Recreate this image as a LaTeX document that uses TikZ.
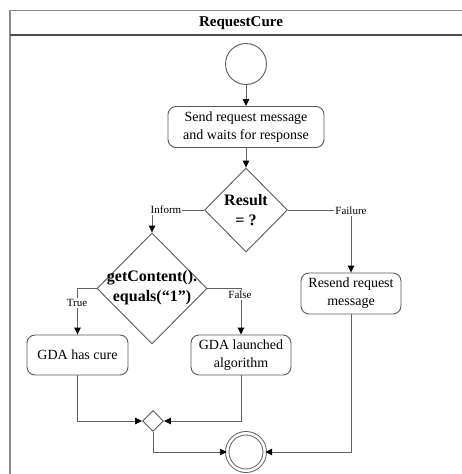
\documentclass[tikz,border=0pt]{standalone}
\usepackage{fontspec}
\setmainfont{Liberation Serif}
\usetikzlibrary{shapes.geometric,arrows.meta}
\begin{document}
\begin{tikzpicture}[x=1pt,y=-1pt,
  edge/.style={draw=black!62, line width=0.9pt},
  flow/.style={edge, -{Triangle[length=7pt,width=6.5pt,black]}},
  action/.style={draw=black!65, line width=0.9pt, rounded corners=8pt,
    align=center, font=\fontsize{14}{18}\selectfont, inner sep=0pt},
  decision/.style={diamond, draw=black!65, line width=0.9pt, inner sep=0pt},
  guard/.style={fill=white, inner sep=1pt, font=\fontsize{11}{13}\selectfont},
  cond/.style={align=center, font=\fontsize{16}{20}\selectfont\bfseries},
  endpoint/.style={circle, draw=black!65, line width=0.9pt, inner sep=0pt},
]
\useasboundingbox (0,0) rectangle (462,474);
\fill[white] (0,0) rectangle (462,474);

% swimlane frame and header
\draw[black!45, line width=1.5pt] (10,474) -- (10,10.5) -- (462,10.5);
\draw[black!70, line width=1.2pt] (10,35) -- (462,35);
\node[font=\fontsize{15}{18}\selectfont\bfseries] (title) at (241,23) {RequestCure};

% nodes
\node[endpoint, minimum size=41pt] (start) at (246,64) {};
\node[action, minimum width=156pt, minimum height=41pt] (send) at (246,127)
  {Send request message\\and waits for response};
\node[decision, minimum width=83pt, minimum height=84pt] (result) at (246,210) {};
\node[cond] (resulttext) at (246,210) {Result\\= ?};
\node[decision, minimum width=110pt, minimum height=111pt] (check) at (152,288.5) {};
\node[cond] (checktext) at (152,288) {getContent().\\equals(“1”)};
\node[action, minimum width=101pt, minimum height=40pt] (cure) at (77.5,355) {GDA has cure};
\node[action, minimum width=100pt, minimum height=40pt] (launch) at (241,355)
  {GDA launched\\algorithm};
\node[action, minimum width=100pt, minimum height=41pt] (resend) at (351,293.5)
  {Resend request\\message};
\node[decision, minimum width=21pt, minimum height=21pt] (merge) at (153,421) {};
\node[endpoint, double, double distance=2.5pt, minimum size=37.5pt] (stop) at (246,452) {};

% connectors
\draw[flow] (start) -- (send);
\draw[flow] (send) -- (result);
\draw[flow] (result.west) -| (check.north);
\draw[flow] (result.east) -| (resend.north);
\draw[flow] (check.west) -| (cure.north);
\draw[flow] (check.east) -| (launch.north);
\draw[flow] (cure.south) |- (merge.west);
\draw[flow] (launch.south) |- (merge.east);
\draw[flow] (merge.south) |- (stop.west);
\draw[flow] (resend.south) |- (stop.east);

% guard labels
\node[guard] (inform) at (166,210) {Inform};
\node[guard] (failure) at (351,211) {Failure};
\node[guard] (true) at (77,303) {True};
\node[guard] (false) at (240,295) {False};
\end{tikzpicture}
\end{document}
